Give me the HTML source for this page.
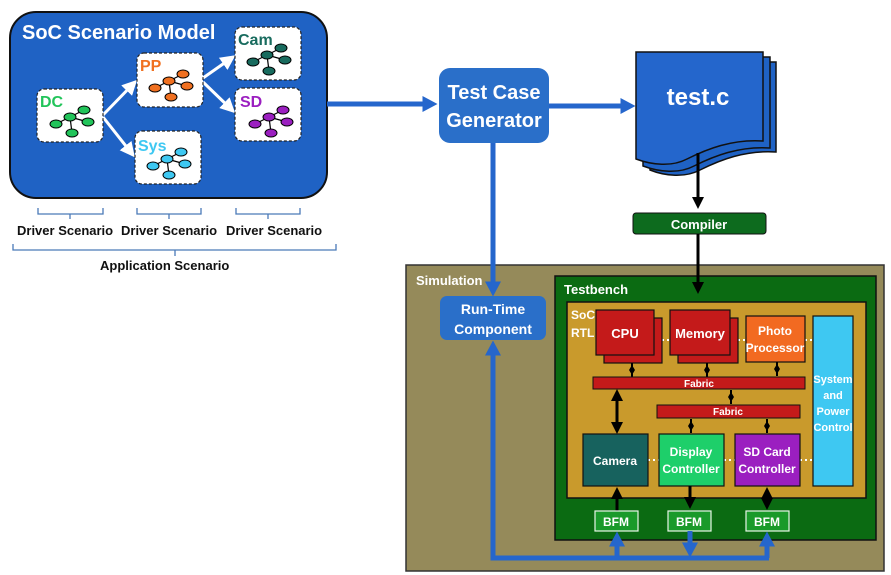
<!DOCTYPE html>
<html><head><meta charset="utf-8"><style>
html,body{margin:0;padding:0;background:#fff;}
svg{display:block;}
text{font-family:"Liberation Sans",sans-serif;font-weight:bold;}
</style></head><body>
<svg width="891" height="575" viewBox="0 0 891 575" xmlns="http://www.w3.org/2000/svg">
<defs>
<marker id="ab" markerWidth="3" markerHeight="3.2" refX="1.5" refY="1.6" orient="auto-start-reverse" markerUnits="strokeWidth"><path d="M0,0 L3,1.6 L0,3.2 z" fill="#2566cc"/></marker>
<marker id="ak" markerWidth="4" markerHeight="4" refX="3" refY="2" orient="auto-start-reverse" markerUnits="strokeWidth"><path d="M0,0 L4,2 L0,4 z" fill="#000"/></marker>
<marker id="aw" markerWidth="5" markerHeight="5" refX="4" refY="2.5" orient="auto" markerUnits="strokeWidth"><path d="M0,0 L5,2.5 L0,5 z" fill="#fff"/></marker>
<g id="tree">
<path d="M6,22 L20,15 L34,8 M20,15 L38,20 M20,15 L22,31" stroke="#000" stroke-width="1.2" fill="none"/>
<ellipse cx="6" cy="22" rx="6" ry="4" stroke="#000" stroke-width="1"/>
<ellipse cx="20" cy="15" rx="6" ry="4" stroke="#000" stroke-width="1"/>
<ellipse cx="34" cy="8" rx="6" ry="4" stroke="#000" stroke-width="1"/>
<ellipse cx="38" cy="20" rx="6" ry="4" stroke="#000" stroke-width="1"/>
<ellipse cx="22" cy="31" rx="6" ry="4" stroke="#000" stroke-width="1"/>
</g>
<g id="dm"><line x1="0" y1="-7" x2="0" y2="7" stroke="#000" stroke-width="2"/><path d="M0,-5 L3,0 L0,5 L-3,0 z" fill="#000"/></g>
</defs>

<rect x="10" y="12" width="317" height="186" rx="26" fill="#1f62c4" stroke="#111" stroke-width="2"/>
<text x="22" y="39" fill="#fff" font-size="20">SoC Scenario Model</text>
<g stroke="#fff" stroke-width="3" fill="none">
<line x1="103" y1="115" x2="135" y2="82" marker-end="url(#aw)"/>
<line x1="103" y1="117" x2="133" y2="155" marker-end="url(#aw)"/>
<line x1="203" y1="78" x2="233" y2="57" marker-end="url(#aw)"/>
<line x1="203" y1="82" x2="233" y2="111" marker-end="url(#aw)"/>
</g>
<g stroke="#222" stroke-width="1.2" stroke-dasharray="3,2" fill="#fff">
<rect x="37" y="89" width="66" height="53" rx="7"/>
<rect x="137" y="53" width="66" height="54" rx="7"/>
<rect x="135" y="131" width="66" height="53" rx="7"/>
<rect x="235" y="27" width="66" height="53" rx="7"/>
<rect x="235" y="88" width="66" height="53" rx="7"/>
</g>
<text x="40" y="107" fill="#22c45a" font-size="16">DC</text>
<use href="#tree" x="50" y="102" fill="#22c45a"/>
<text x="140" y="71" fill="#f07020" font-size="16">PP</text>
<use href="#tree" x="149" y="66" fill="#f07020"/>
<text x="138" y="151" fill="#3ec8f2" font-size="16">Sys</text>
<use href="#tree" x="147" y="144" fill="#3ec8f2"/>
<text x="238" y="45" fill="#186b5e" font-size="16">Cam</text>
<use href="#tree" x="247" y="40" fill="#186b5e"/>
<text x="240" y="107" fill="#9b1fc0" font-size="16">SD</text>
<use href="#tree" x="249" y="102" fill="#9b1fc0"/>

<g stroke="#4a7ab8" stroke-width="1.3" fill="none">
<path d="M38,208 V214 H103 V208 M70,214 V219"/>
<path d="M137,208 V214 H201 V208 M169,214 V219"/>
<path d="M236,208 V214 H300 V208 M268,214 V219"/>
<path d="M13,244 V250 H336 V244 M175,250 V256"/>
</g>
<g font-size="13" fill="#111">
<text x="17" y="235">Driver Scenario</text>
<text x="121" y="235">Driver Scenario</text>
<text x="226" y="235">Driver Scenario</text>
<text x="100" y="270">Application Scenario</text>
</g>

<line x1="327" y1="104" x2="430" y2="104" stroke="#2566cc" stroke-width="5" marker-end="url(#ab)"/>
<rect x="439" y="68" width="110" height="75" rx="11" fill="#2a6fc9"/>
<text x="494" y="99" fill="#fff" font-size="20" text-anchor="middle">Test Case</text>
<text x="494" y="127" fill="#fff" font-size="20" text-anchor="middle">Generator</text>
<line x1="549" y1="106" x2="628" y2="106" stroke="#2566cc" stroke-width="5" marker-end="url(#ab)"/>

<path d="M650,62 H776 V152 C745,150 720,160 700,170 C685,178 665,176 650,170 Z" fill="#1f62c4" stroke="#111" stroke-width="1.5"/>
<path d="M643,57 H770 V148 C739,146 714,156 694,166 C679,174 659,172 643,166 Z" fill="#1f62c4" stroke="#111" stroke-width="1.5"/>
<path d="M636,52 H763 V141 C732,139 707,149 687,159 C672,167 652,165 636,159 Z" fill="#2466cc" stroke="#111" stroke-width="1.5"/>
<text x="698" y="105" fill="#fff" font-size="24" text-anchor="middle">test.c</text>
<line x1="698" y1="153" x2="698" y2="206" stroke="#000" stroke-width="3" marker-end="url(#ak)"/>
<rect x="633" y="213" width="133" height="21" rx="3" fill="#0d6b1e" stroke="#111" stroke-width="1"/>
<text x="699" y="229" fill="#fff" font-size="13" text-anchor="middle">Compiler</text>

<rect x="406" y="265" width="478" height="306" fill="#958a5a" stroke="#333" stroke-width="1.5"/>
<text x="416" y="285" fill="#fff" font-size="13">Simulation</text>
<rect x="555" y="276" width="321" height="264" fill="#0b6b12" stroke="#111" stroke-width="1.5"/>
<text x="564" y="294" fill="#fff" font-size="13">Testbench</text>
<line x1="698" y1="234" x2="698" y2="291" stroke="#000" stroke-width="3" marker-end="url(#ak)"/>
<rect x="567" y="302" width="299" height="196" fill="#c99a2c" stroke="#111" stroke-width="1.5"/>
<text x="571" y="319" fill="#fff" font-size="12">SoC</text>
<text x="571" y="337" fill="#fff" font-size="12">RTL</text>

<g stroke="#fff" stroke-width="2" stroke-dasharray="2,3">
<line x1="662" y1="340" x2="670" y2="340"/>
<line x1="738" y1="340" x2="746" y2="340"/>
<line x1="805" y1="340" x2="813" y2="340"/>
<line x1="648" y1="460" x2="659" y2="460"/>
<line x1="724" y1="460" x2="735" y2="460"/>
<line x1="800" y1="460" x2="813" y2="460"/>
</g>

<rect x="604" y="318" width="58" height="45" fill="#c41a1a" stroke="#111" stroke-width="1.2"/>
<rect x="596" y="310" width="58" height="45" fill="#c41a1a" stroke="#111" stroke-width="1.2"/>
<text x="625" y="338" fill="#fff" font-size="13" text-anchor="middle">CPU</text>
<rect x="678" y="318" width="60" height="45" fill="#c41a1a" stroke="#111" stroke-width="1.2"/>
<rect x="670" y="310" width="60" height="45" fill="#c41a1a" stroke="#111" stroke-width="1.2"/>
<text x="700" y="338" fill="#fff" font-size="13" text-anchor="middle">Memory</text>
<rect x="746" y="316" width="59" height="46" fill="#f26a21" stroke="#111" stroke-width="1.2"/>
<text x="775" y="335" fill="#fff" font-size="12" text-anchor="middle">Photo</text>
<text x="775" y="352" fill="#fff" font-size="12" text-anchor="middle">Processor</text>
<rect x="813" y="316" width="40" height="170" fill="#3ec8f2" stroke="#111" stroke-width="1.2"/>
<g fill="#fff" font-size="11" text-anchor="middle">
<text x="833" y="383">System</text><text x="833" y="399">and</text><text x="833" y="415">Power</text><text x="833" y="431">Control</text>
</g>

<use href="#dm" x="632" y="370"/>
<use href="#dm" x="707" y="370"/>
<use href="#dm" x="777" y="369"/>
<use href="#dm" x="731" y="397"/>
<use href="#dm" x="691" y="426"/>
<use href="#dm" x="767" y="426"/>
<line x1="617" y1="392" x2="617" y2="431" stroke="#000" stroke-width="3" marker-start="url(#ak)" marker-end="url(#ak)"/>
<rect x="593" y="377" width="212" height="12" fill="#c41a1a" stroke="#111" stroke-width="1"/>
<text x="699" y="387" fill="#fff" font-size="10" text-anchor="middle">Fabric</text>
<rect x="657" y="405" width="143" height="13" fill="#c41a1a" stroke="#111" stroke-width="1"/>
<text x="728" y="415" fill="#fff" font-size="10" text-anchor="middle">Fabric</text>

<rect x="583" y="434" width="65" height="52" fill="#17625e" stroke="#111" stroke-width="1.2"/>
<text x="615" y="465" fill="#fff" font-size="12" text-anchor="middle">Camera</text>
<rect x="659" y="434" width="65" height="52" fill="#1ecf6a" stroke="#111" stroke-width="1.2"/>
<text x="691" y="456" fill="#fff" font-size="12" text-anchor="middle">Display</text>
<text x="691" y="473" fill="#fff" font-size="12" text-anchor="middle">Controller</text>
<rect x="735" y="434" width="65" height="52" fill="#9b1fc0" stroke="#111" stroke-width="1.2"/>
<text x="767" y="456" fill="#fff" font-size="12" text-anchor="middle">SD Card</text>
<text x="767" y="473" fill="#fff" font-size="12" text-anchor="middle">Controller</text>

<line x1="617" y1="511" x2="617" y2="490" stroke="#000" stroke-width="3" marker-end="url(#ak)"/>
<line x1="690" y1="486" x2="690" y2="506" stroke="#000" stroke-width="3" marker-end="url(#ak)"/>
<line x1="767" y1="490" x2="767" y2="507" stroke="#000" stroke-width="3" marker-start="url(#ak)" marker-end="url(#ak)"/>
<g fill="#1a9a2a" stroke="#e8f5e8" stroke-width="1.2">
<rect x="595" y="511" width="43" height="20"/>
<rect x="668" y="511" width="43" height="20"/>
<rect x="746" y="511" width="43" height="20"/>
</g>
<g fill="#fff" font-size="12" text-anchor="middle">
<text x="616" y="526">BFM</text><text x="689" y="526">BFM</text><text x="767" y="526">BFM</text>
</g>

<line x1="493" y1="143" x2="493" y2="289" stroke="#2566cc" stroke-width="5" marker-end="url(#ab)"/>
<rect x="440" y="296" width="106" height="44" rx="7" fill="#2a6fc9"/>
<text x="493" y="314" fill="#fff" font-size="14" text-anchor="middle">Run-Time</text>
<text x="493" y="334" fill="#fff" font-size="14" text-anchor="middle">Component</text>
<path d="M493,352 V558 H769" stroke="#2566cc" stroke-width="5" fill="none"/>
<line x1="493" y1="420" x2="493" y2="348" stroke="#2566cc" stroke-width="5" marker-end="url(#ab)"/>
<line x1="617" y1="558" x2="617" y2="539" stroke="#2566cc" stroke-width="5" marker-end="url(#ab)"/>
<line x1="690" y1="531" x2="690" y2="550" stroke="#2566cc" stroke-width="5" marker-end="url(#ab)"/>
<line x1="767" y1="558" x2="767" y2="539" stroke="#2566cc" stroke-width="5" marker-end="url(#ab)"/>
</svg>
</body></html>
